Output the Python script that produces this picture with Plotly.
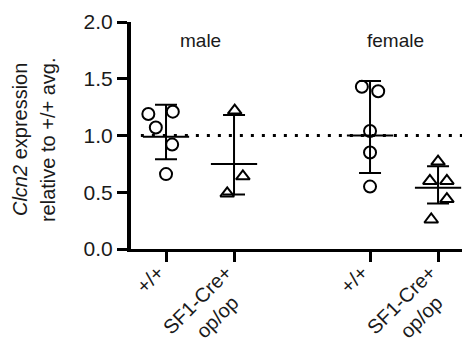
import plotly.graph_objects as go

# ---- data ----
group_labels = ["male", "female"]
NB = "\u00a0"
tick_labels = ["+/+" + NB * 2,
               "SF1-Cre+" + NB * 2 + "<br>op/op" + NB * 5,
               "+/+" + NB * 2,
               "SF1-Cre+" + NB * 2 + "<br>op/op" + NB * 5]
positions = [1, 2, 4, 5]

male_wt = [1.19, 1.21, 1.07, 0.92, 0.66]
male_ko = [1.22, 0.64, 0.49]
female_wt = [1.43, 1.39, 1.04, 0.85, 0.55]
female_ko = [0.77, 0.60, 0.60, 0.44, 0.26]

# scatter jitter (x offsets, in category units)
male_wt_jit = [-0.26, 0.10, -0.15, 0.09, 0.0]
male_ko_jit = [0.01, 0.13, -0.10]
female_wt_jit = [-0.12, 0.12, 0.0, 0.0, 0.0]
female_ko_jit = [0.0, -0.12, 0.13, 0.13, -0.10]

means = [0.99, 0.75, 1.00, 0.54]
err_upper = [1.27, 1.18, 1.48, 0.73]
err_lower = [0.79, 0.48, 0.67, 0.40]

ref_level = 1.0

FONT = "Arial, Liberation Sans, sans-serif"
TXT = "#1a1a1a"
fig = go.Figure()

groups = [
    (male_wt, male_wt_jit, positions[0], "circle-open"),
    (male_ko, male_ko_jit, positions[1], "triangle-up-open"),
    (female_wt, female_wt_jit, positions[2], "circle-open"),
    (female_ko, female_ko_jit, positions[3], "triangle-up-open"),
]

# dotted reference line
fig.add_trace(go.Scatter(
    x=[0.63, 5.6], y=[ref_level, ref_level], mode="lines",
    line=dict(color="black", width=3, dash="3px,8px"),
    hoverinfo="skip", showlegend=False))

# mean + error bars
fig.add_trace(go.Scatter(
    x=positions, y=means, mode="markers",
    marker=dict(size=1, color="rgba(0,0,0,0)"),
    error_y=dict(type="data", symmetric=False,
                 array=[u - m for u, m in zip(err_upper, means)],
                 arrayminus=[m - l for l, m in zip(err_lower, means)],
                 color="black", thickness=2, width=11),
    error_x=dict(type="constant", value=0.34, color="black", thickness=2, width=0),
    showlegend=False, hoverinfo="skip"))

for vals, jit, pos, sym in groups:
    fig.add_trace(go.Scatter(
        x=[pos + j for j in jit], y=vals, mode="markers",
        marker=dict(symbol=sym, size=12,
                    color="black", line=dict(width=2, color="black")),
        showlegend=False))

fig.add_annotation(x=1.5, y=1.84, xref="x", yref="y", text=group_labels[0],
                   showarrow=False, font=dict(size=19, color=TXT, family=FONT))
fig.add_annotation(x=4.37, y=1.84, xref="x", yref="y", text=group_labels[1],
                   showarrow=False, font=dict(size=19, color=TXT, family=FONT))

# y-axis title (two lines)
fig.add_annotation(x=-0.3274, y=0.48, xref="paper", yref="paper",
                   text="<i>Clcn2</i> expression",
                   textangle=-90, showarrow=False, xanchor="center", yanchor="middle",
                   font=dict(size=20, color=TXT, family=FONT))
fig.add_annotation(x=-0.2448, y=0.48, xref="paper", yref="paper",
                   text="relative to +/+ avg.",
                   textangle=-90, showarrow=False, xanchor="center", yanchor="middle",
                   font=dict(size=20, color=TXT, family=FONT))

# page has an 8px body margin: figure is placed at (8, 8)
fig.update_layout(
    width=462, height=333,
    margin=dict(l=123, r=0, t=14, b=92),
    plot_bgcolor="white", paper_bgcolor="white",
    font=dict(family=FONT, size=19, color=TXT),
    xaxis=dict(range=[0.485, 5.47], tickvals=positions, ticktext=tick_labels,
               tickangle=-45, ticks="outside", ticklen=10, tickwidth=3,
               tickcolor="black", showline=True, linecolor="black", linewidth=3,
               showgrid=False, zeroline=False, tickfont=dict(size=20),
               ticklabelstandoff=-17, automargin=False),
    yaxis=dict(range=[0, 2.0], tickvals=[0, 0.5, 1.0, 1.5, 2.0], tickformat=".1f",
               ticks="outside", ticklen=10, tickwidth=3, tickcolor="black",
               showline=True, linecolor="black", linewidth=4,
               showgrid=False, zeroline=False, tickfont=dict(size=21),
               automargin=False),
)

fig.write_html("out.html")
